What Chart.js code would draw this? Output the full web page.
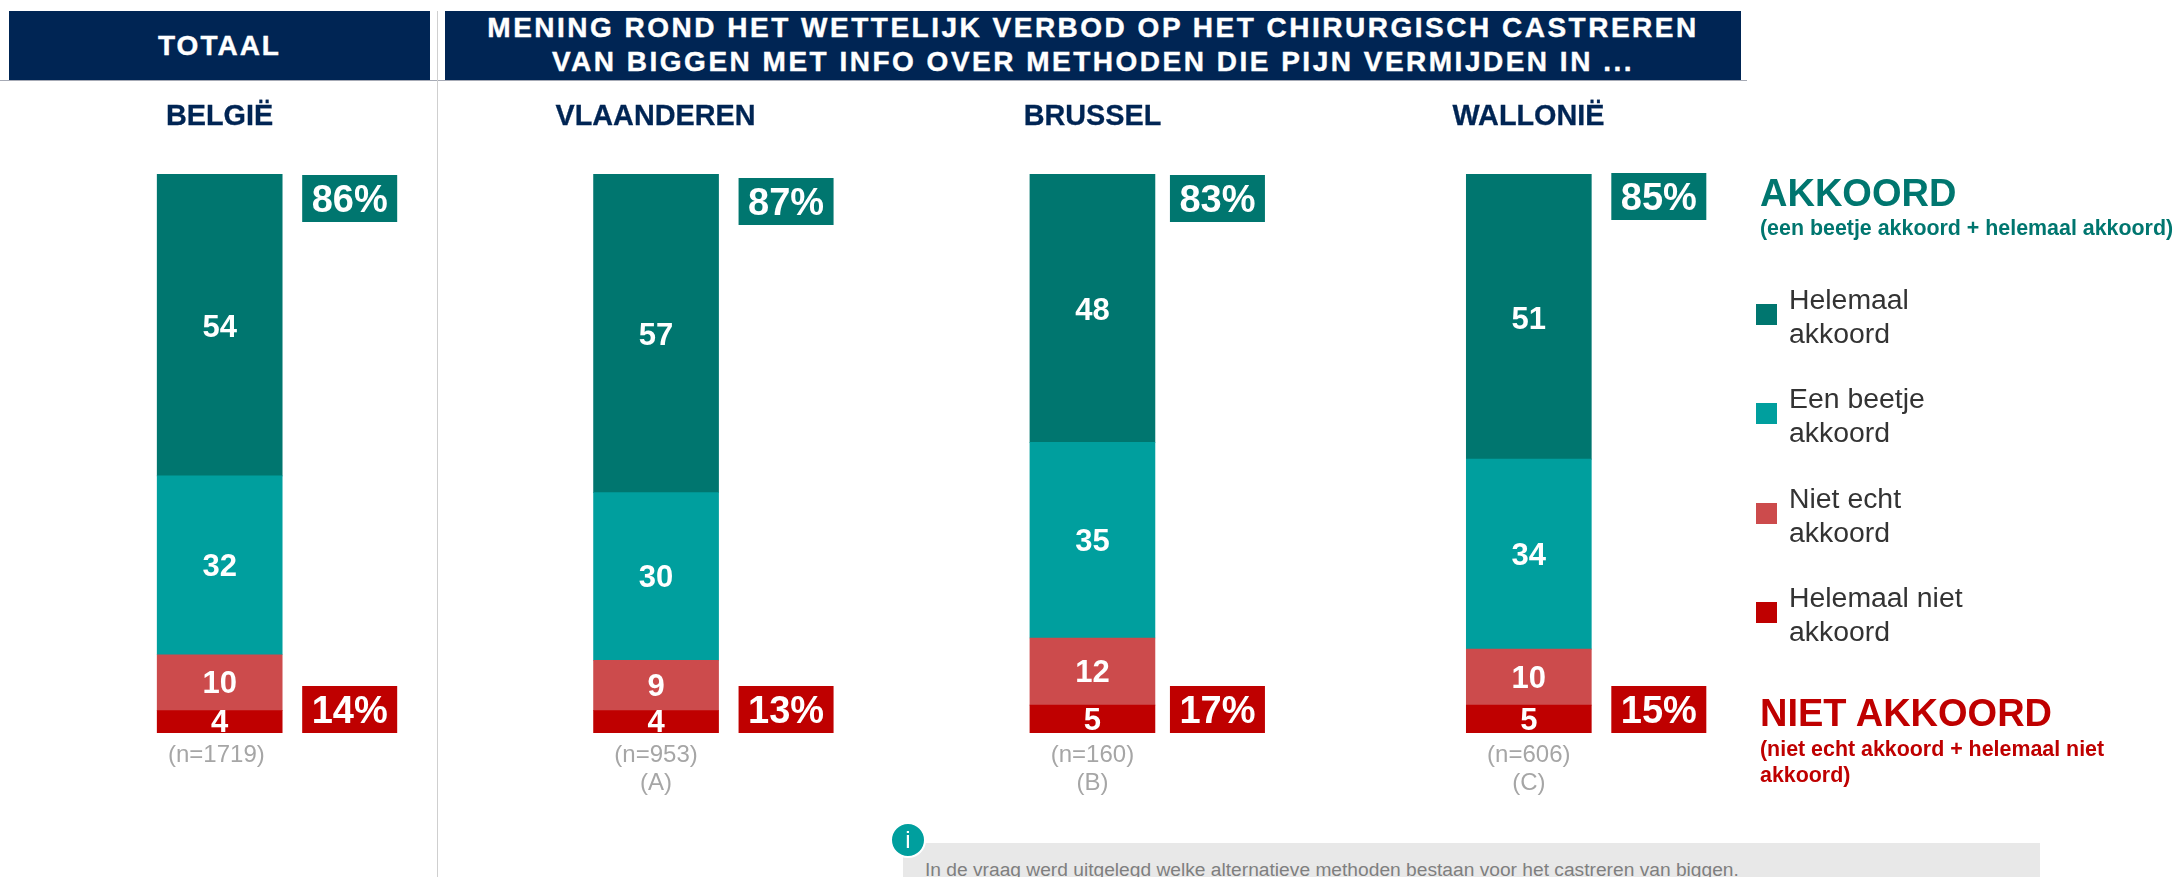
<!DOCTYPE html>
<html lang="nl">
<head>
<meta charset="utf-8">
<title>Mening rond het wettelijk verbod</title>
<script src="https://cdn.jsdelivr.net/npm/chart.js@4/dist/chart.umd.min.js"></script>
<style>
html,body{margin:0;padding:0;background:#fff;overflow:hidden}
body{width:2175px;height:877px;position:relative;font-family:"Liberation Sans",Arial,sans-serif}
canvas{position:absolute;left:0;top:0}
.abs{position:absolute;white-space:nowrap}
.band{background:#002554;color:#fff;font-weight:bold;font-size:28px;text-align:center;top:11px;height:69px;-webkit-text-stroke:.4px #fff}
.region{color:#002554;font-weight:bold;font-size:28.8px;line-height:32px;top:99px;transform:translateX(-50%);-webkit-text-stroke:.3px #002554}
.leg{color:#333;font-size:28.4px;line-height:34px;left:1789px}
.sw{left:1756px;width:21px;height:21px}
.big{font-weight:bold;font-size:38px;line-height:44px;left:1760px}
.sub{font-weight:bold;font-size:21.4px;left:1760px}
</style>
</head>
<body>
<canvas id="c" width="2175" height="877"></canvas>
<div class="abs" style="left:0;top:80px;width:1747px;height:1px;background:#a6aab5"></div>
<div class="abs" style="left:437px;top:11px;width:1px;height:866px;background:#cfcfcf"></div>
<div class="abs band" style="left:9px;width:421px;line-height:69px;letter-spacing:2px">TOTAAL</div>
<div class="abs band" style="left:445px;width:1296px;line-height:34px;letter-spacing:2.5px" id="hd"></div>
<div id="regions"></div>
<div id="legend"></div>
<div class="abs big" style="top:171px;color:#00766f">AKKOORD</div>
<div class="abs sub" style="top:216px;line-height:24px;color:#00766f">(een beetje akkoord + helemaal akkoord)</div>
<div class="abs big" style="top:691px;color:#bf0000">NIET AKKOORD</div>
<div class="abs sub" style="top:736px;line-height:26px;color:#bf0000">(niet echt akkoord + helemaal niet<br>akkoord)</div>
<div class="abs" style="left:903px;top:843px;width:1137px;height:34px;background:#e8e8e8;overflow:hidden">
  <div class="abs" style="left:22px;top:15px;font-size:19.2px;line-height:24px;color:#7f7f7f">In de vraag werd uitgelegd welke alternatieve methoden bestaan voor het castreren van biggen.</div>
</div>
<div class="abs" style="left:890px;top:822px;width:32px;height:32px;border:2px solid #fff;border-radius:50%;background:#009f9e;color:#fff;font-size:24px;line-height:32px;text-align:center">i</div>
<script>
const categories = ["België", "Vlaanderen", "Brussel", "Wallonië"];
const sampleLabels = [["(n=1719) "], ["(n=953)", "(A)"], ["(n=160)", "(B)"], ["(n=606)", "(C)"]];
const helemaalAkkoord = [54, 57, 48, 51];
const beetjeAkkoord = [32, 30, 35, 34];
const nietEchtAkkoord = [10, 9, 12, 10];
const helemaalNietAkkoord = [4, 4, 5, 5];
const totaalAkkoord = [86, 87, 83, 85];
const totaalNietAkkoord = [14, 13, 17, 15];
const seriesNames = ["Helemaal\nakkoord", "Een beetje\nakkoord", "Niet echt\nakkoord", "Helemaal niet\nakkoord"];
const seriesColors = ["#00766f", "#009f9e", "#cc4b4c", "#bf0000"];
const headerLines = ["MENING ROND HET WETTELIJK VERBOD OP HET CHIRURGISCH CASTREREN", "VAN BIGGEN MET INFO OVER METHODEN DIE PIJN VERMIJDEN IN ..."];

const FONT = '"Liberation Sans", Arial, sans-serif';
document.getElementById('hd').innerHTML = headerLines.join('<br>');

const regionCenters = [219.5, 655.5, 1092.5, 1528.5];
document.getElementById('regions').innerHTML = categories.map((c, i) =>
  `<div class="abs region" style="left:${regionCenters[i]}px">${c.toUpperCase()}</div>`).join('');

const legendTops = [304, 403, 503, 602];
document.getElementById('legend').innerHTML = seriesNames.map((n, i) =>
  `<div class="abs sw" style="top:${legendTops[i]}px;background:${seriesColors[i]}"></div>` +
  `<div class="abs leg" style="top:${legendTops[i] - 22}px">${n.replace('\n', '<br>')}</div>`).join('');

const greenBadgeTop = [175, 178, 175, 173];
const badgeOffset = [82.5, 82.5, 77.5, 82.5];
const badgePlugin = {
  id: 'labels',
  afterDatasetsDraw(chart) {
    const ctx = chart.ctx, x = chart.scales.x, y = chart.scales.y;
    ctx.save();
    ctx.textAlign = 'center';
    ctx.textBaseline = 'middle';
    ctx.fillStyle = '#fff';
    ctx.font = 'bold 31px ' + FONT;
    chart.data.datasets.forEach((ds, d) => {
      chart.getDatasetMeta(d).data.forEach((bar, i) => {
        ctx.fillText(String(ds.data[i]), bar.x, (bar.y + bar.base) / 2 + (d === 3 ? 3.5 : 2));
      });
    });
    ctx.font = 'bold 38px ' + FONT;
    categories.forEach((_, i) => {
      const left = x.getPixelForValue(i) + badgeOffset[i];
      const w = 95, h = 47;
      const redTop = y.getPixelForValue(0) - h;
      ctx.fillStyle = seriesColors[0];
      ctx.fillRect(left, greenBadgeTop[i], w, h);
      ctx.fillStyle = seriesColors[3];
      ctx.fillRect(left, redTop, w, h);
      ctx.fillStyle = '#fff';
      ctx.fillText(totaalAkkoord[i] + '%', left + w / 2, greenBadgeTop[i] + h / 2 + 3);
      ctx.fillText(totaalNietAkkoord[i] + '%', left + w / 2, redTop + h / 2 + 3);
    });
    ctx.restore();
  }
};

new Chart(document.getElementById('c'), {
  type: 'bar',
  data: {
    labels: sampleLabels,
    datasets: [
      { label: seriesNames[3], data: helemaalNietAkkoord, backgroundColor: seriesColors[3] },
      { label: seriesNames[2], data: nietEchtAkkoord, backgroundColor: seriesColors[2] },
      { label: seriesNames[1], data: beetjeAkkoord, backgroundColor: seriesColors[1] },
      { label: seriesNames[0], data: helemaalAkkoord, backgroundColor: seriesColors[0] }
    ]
  },
  options: {
    responsive: false,
    animation: false,
    layout: { padding: { left: 1.5, right: 428, top: 174, bottom: 0 } },
    plugins: { legend: { display: false }, tooltip: { enabled: false } },
    datasets: { bar: { barThickness: 125 } },
    scales: {
      x: {
        stacked: true,
        grid: { display: false, drawTicks: false },
        border: { display: false },
        ticks: { color: '#a6a6a6', padding: 8, maxRotation: 0, autoSkip: false, font: { family: FONT, size: 24, lineHeight: 1.17 } },
        afterFit(s) { s.height = 144; }
      },
      y: { stacked: true, display: false, min: 0, max: 100 }
    }
  },
  plugins: [badgePlugin]
});
</script>
</body>
</html>
